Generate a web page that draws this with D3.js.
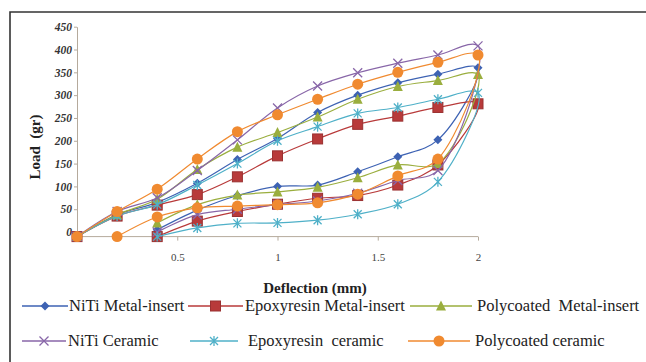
<!DOCTYPE html>
<html><head><meta charset="utf-8">
<script src="https://cdn.jsdelivr.net/npm/d3@7"></script>
<style>body{margin:0;background:#fff}svg{display:block}text{white-space:pre}</style>
</head><body>
<svg id="c" width="646" height="362"></svg>
<script>
// ---- data ----
const xLoad = [0, 0.2, 0.4, 0.6, 0.8, 1.0, 1.2, 1.4, 1.6, 1.8, 2.0];
const xUnload = [1.8, 1.6, 1.4, 1.2, 1.0, 0.8, 0.6, 0.4, 0.2];
const yTicks = [0, 50, 100, 150, 200, 250, 300, 350, 400, 450];
const xTicks = [0.5, 1, 1.5, 2];
const xTickLabels = ["0.5", "1", "1.5", "2"];

const names = ["NiTi Metal-insert", "Epoxyresin Metal-insert", "Polycoated  Metal-insert",
               "NiTi Ceramic", "Epoxyresin  ceramic", "Polycoated ceramic"];

const niTiMetalLoad   = [-10, 38, 65, 107, 159, 205, 262, 300, 327, 346, 360];
const niTiMetalUnload = [202, 165, 132, 103, 100, 80, 48, 5, null];
const epoxyMetalLoad   = [-10, 35, 59, 82, 121, 167, 204, 236, 254, 273, 281];
const epoxyMetalUnload = [147, 103, 80, 74, 61, 45, 24, -10, null];
const polyMetalLoad   = [-10, 38, 72, 137, 186, 218, 252, 291, 319, 332, 345];
const polyMetalUnload = [150, 147, 119, 98, 88, 81, 60, 20, null];
const niTiCerLoad   = [-10, 45, 75, 135, 202, 272, 320, 349, 370, 388, 408];
const niTiCerUnload = [135, 113, 85, 68, 60, 50, 38, 0, null];
const epoxyCerLoad   = [-10, 35, 60, 103, 150, 200, 231, 260, 273, 291, 305];
const epoxyCerUnload = [110, 61, 39, 26, 20, 19, 9, -10, null];
const polyCerLoad   = [-10, 45, 94, 160, 220, 257, 291, 324, 350, 372, 388];
const polyCerUnload = [160, 123, 83, 64, 60, 57, 53, 33, -10];

const loads = [niTiMetalLoad, epoxyMetalLoad, polyMetalLoad, niTiCerLoad, epoxyCerLoad, polyCerLoad];
const unloads = [niTiMetalUnload, epoxyMetalUnload, polyMetalUnload, niTiCerUnload, epoxyCerUnload, polyCerUnload];

// ---- style ----
const colors = ["#3d62b3", "#b83a3a", "#9aae3e", "#8866a8", "#4fb0c8", "#f08a30"];
const markers = ["diamond", "square", "triangle", "x", "star", "circle"];
const serif = "'Liberation Serif', 'Times New Roman', serif";

const svg = d3.select("#c");
const x = d3.scaleLinear().domain([0, 2]).range([77, 478]);
const y = d3.scaleLinear().domain([-10, 450]).range([236.6, 26.7]);

// frame
svg.append("path").attr("d", "M10,362 V12 H646").attr("fill", "none")
  .attr("stroke", "#333").attr("stroke-width", 1.6);

// axes
const axisCol = "#b5aa9c";
const gy = svg.append("g").attr("transform", `translate(${x(0)},0)`)
  .call(d3.axisLeft(y).tickValues(yTicks).tickSize(3).tickSizeOuter(0).tickPadding(2));
gy.select(".domain").attr("stroke", axisCol);
gy.selectAll(".tick line").attr("stroke", axisCol);
gy.selectAll(".tick text").attr("font-family", serif).attr("font-size", 11.5)
  .attr("font-weight", "bold").attr("font-style", "italic").attr("fill", "#333");

const gx = svg.append("g").attr("transform", `translate(0,${y(-10)})`)
  .call(d3.axisBottom(x).tickValues(xTicks).tickSize(4).tickSizeOuter(0).tickPadding(13)
    .tickFormat((d, i) => xTickLabels[i]));
gx.select(".domain").attr("stroke", axisCol).attr("d", `M${x(0)},0H${x(2)}`);
gx.selectAll(".tick line").attr("stroke", axisCol);
gx.selectAll(".tick text").attr("font-family", serif).attr("font-size", 11)
  .attr("fill", "#444");

// titles
svg.append("text").attr("transform", "translate(40,147) rotate(-90)").attr("text-anchor", "middle")
  .attr("font-family", serif).attr("font-weight", "bold").attr("font-size", 15)
  .attr("fill", "#222").text("Load  (gr)");
svg.append("text").attr("x", 315).attr("y", 293).attr("text-anchor", "middle")
  .attr("font-family", serif).attr("font-weight", "bold").attr("font-size", 15)
  .attr("fill", "#222").text("Deflection (mm)");

function drawMarker(g, type, cx, cy, col) {
  const s = 4.5;
  if (type === "diamond") g.append("path").attr("d", `M${cx},${cy-s}L${cx+s},${cy}L${cx},${cy+s}L${cx-s},${cy}Z`).attr("fill", col);
  else if (type === "square") g.append("rect").attr("x", cx-5).attr("y", cy-5).attr("width", 10).attr("height", 10).attr("fill", col).attr("stroke", d3.color(col).darker(0.5));
  else if (type === "triangle") g.append("path").attr("d", `M${cx},${cy-5.5}L${cx+5},${cy+4.5}L${cx-5},${cy+4.5}Z`).attr("fill", col);
  else if (type === "circle") g.append("circle").attr("cx", cx).attr("cy", cy).attr("r", 5.5).attr("fill", col);
  else if (type === "x") g.append("path").attr("d", `M${cx-4.5},${cy-4.5}L${cx+4.5},${cy+4.5}M${cx-4.5},${cy+4.5}L${cx+4.5},${cy-4.5}`).attr("stroke", col).attr("stroke-width", 1.3);
  else if (type === "star") g.append("path").attr("d", `M${cx-4},${cy-4}L${cx+4},${cy+4}M${cx-4},${cy+4}L${cx+4},${cy-4}M${cx},${cy-5}L${cx},${cy+5}`).attr("stroke", col).attr("stroke-width", 1.3);
}

const line = d3.line().x(d => x(d[0])).y(d => y(d[1])).curve(d3.curveCatmullRom.alpha(0.5));
const plot = svg.append("g");
loads.forEach((ld, i) => {
  const pts = xLoad.map((xv, j) => [xv, ld[j]]);
  unloads[i].forEach((v, j) => { if (v !== null) pts.push([xUnload[j], v]); });
  const g = plot.append("g");
  g.append("path").attr("d", line(pts)).attr("fill", "none").attr("stroke", colors[i]).attr("stroke-width", 1.2);
  pts.forEach(p => drawMarker(g, markers[i], x(p[0]), y(p[1]), colors[i]));
});

// legend
const leg = [
  {lx: 22, rx: 68, tx: 69, ty: 306}, {lx: 188, rx: 243, tx: 245, ty: 306}, {lx: 410, rx: 472, tx: 477, ty: 306},
  {lx: 22, rx: 66, tx: 68, ty: 341}, {lx: 190, rx: 238, tx: 248, ty: 341}, {lx: 408, rx: 470, tx: 475, ty: 341}
];
leg.forEach((L, i) => {
  const g = svg.append("g");
  g.append("line").attr("x1", L.lx).attr("x2", L.rx).attr("y1", L.ty).attr("y2", L.ty)
    .attr("stroke", colors[i]).attr("stroke-width", 1.5);
  drawMarker(g, markers[i], (L.lx + L.rx) / 2, L.ty, colors[i]);
  g.append("text").attr("x", L.tx).attr("y", L.ty + 5).attr("font-family", serif)
    .attr("font-size", 16.5).attr("fill", "#222").text(names[i]);
});
</script>
</body></html>
